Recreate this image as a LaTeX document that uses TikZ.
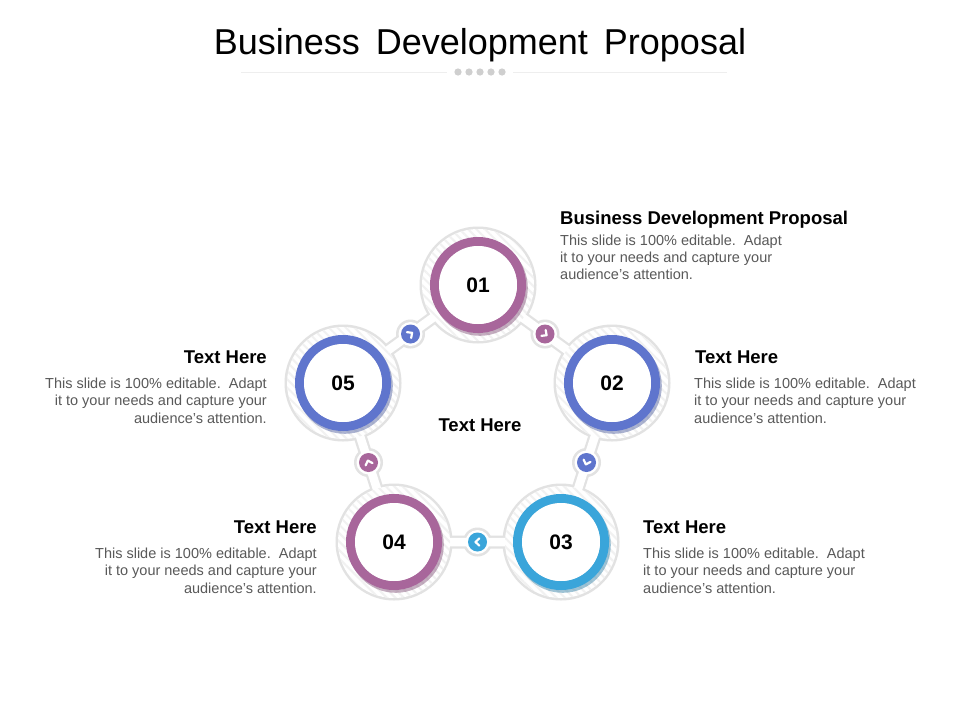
\documentclass[tikz,border=0pt]{standalone}
\usepackage{fontspec}
\setmainfont{Liberation Sans}
\usetikzlibrary{calc,patterns.meta}
\definecolor{cpurple}{HTML}{A8669B}
\definecolor{cblue}{HTML}{5F75CD}
\definecolor{csky}{HTML}{3AA5DA}
\definecolor{halo}{HTML}{E2E2E2}
\definecolor{hatch}{HTML}{F1F1F1}
\definecolor{bodygray}{HTML}{595959}
\definecolor{dotgray}{HTML}{CFCFCF}
\definecolor{rulegray}{HTML}{EEEEEE}
\tikzset{
  hd/.style={font=\bfseries\fontsize{18.5}{21}\selectfont, inner sep=0},
  bd/.style={font=\fontsize{14.5}{17.2}\selectfont, text=bodygray, inner sep=0},
  num/.style={font=\bfseries\fontsize{21}{24}\selectfont, inner sep=0},
  chev/.style={white, line width=2.2, line cap=round, line join=round},
}
\newcommand{\bigring}[2]{%
  \fill[pattern={Lines[angle=-45,distance=6pt,line width=2pt]}, pattern color=hatch] (#1) circle (56);
  \draw[#2!75!black, line width=9, opacity=0.45] ($(#1)+(1.8,2.8)$) circle (43.5);
  \draw[#2, line width=9] (#1) circle (43.5);
  \fill[white] (#1) circle (39);
}
\newcommand{\smallicon}[3]{%
  \fill[#2] (#1) circle (9.5);
  \begin{scope}[shift={(#1)}, rotate=#3]
    \draw[chev] (-1.8,-3.6) -- (2,0) -- (-1.8,3.6);
  \end{scope}
}
\begin{document}
\begin{tikzpicture}[x=1pt,y=-1pt]
\useasboundingbox (0,0) rectangle (960,720);
\fill[white] (0,0) rectangle (960,720);

% title
\node[font=\fontsize{36}{42}\selectfont, anchor=base, inner sep=0] (title) at (480,54) {Business\hspace{6pt} Development\hspace{6pt} Proposal};
\coordinate (r1) at (241,72);
\coordinate (r2) at (447,72);
\coordinate (r3) at (513,72);
\coordinate (r4) at (727,72);
\draw[rulegray, line width=0.9] (r1) -- (r2);
\draw[rulegray, line width=0.9] (r3) -- (r4);
\foreach \i in {0,...,4} \fill[dotgray] (458+11*\i,72) circle (3.6);

% centres
\coordinate (c1) at (478,285);
\coordinate (c2) at (612,383);
\coordinate (c3) at (561,542);
\coordinate (c4) at (394,542);
\coordinate (c5) at (343,383);
\coordinate (m12) at ($(c1)!0.5!(c2)$);
\coordinate (m23) at ($(c2)!0.5!(c3)$);
\coordinate (m34) at ($(c3)!0.5!(c4)$);
\coordinate (m45) at ($(c4)!0.5!(c5)$);
\coordinate (m51) at ($(c5)!0.5!(c1)$);

% grey halo layer
\foreach \c in {c1,c2,c3,c4,c5} \fill[halo] (\c) circle (58.5);
\draw[halo, line width=13] (c1) -- (c2) -- (c3) -- (c4) -- (c5) -- cycle;
\foreach \m in {m12,m23,m34,m45,m51} \fill[halo] (\m) circle (14.5);
% white layer
\foreach \c in {c1,c2,c3,c4,c5} \fill[white] (\c) circle (56);
\draw[white, line width=8.5] (c1) -- (c2) -- (c3) -- (c4) -- (c5) -- cycle;
\foreach \m in {m12,m23,m34,m45,m51} \fill[white] (\m) circle (12);

% coloured rings
\bigring{c1}{cpurple}
\bigring{c2}{cblue}
\bigring{c3}{csky}
\bigring{c4}{cpurple}
\bigring{c5}{cblue}

% small icons
\smallicon{m12}{cpurple}{-36}
\smallicon{m23}{cblue}{-108}
\smallicon{m34}{csky}{180}
\smallicon{m45}{cpurple}{108}
\smallicon{m51}{cblue}{36}

% numbers
\node[num] (n1) at (c1) {01};
\node[num] (n2) at (c2) {02};
\node[num] (n3) at (c3) {03};
\node[num] (n4) at (c4) {04};
\node[num] (n5) at (c5) {05};

% centre label
\node[hd, anchor=base] (ctr) at (480,431) {Text Here};

% text blocks
\node[hd, anchor=base west] (h1) at (560,224) {Business Development Proposal};
\node[bd, anchor=north west, align=left] (b1) at (560,234.5) {This slide is 100\% editable.\ \ Adapt\\it to your needs and capture your\\audience's attention.};

\node[hd, anchor=base west] (h2) at (695,363) {Text Here};
\node[bd, anchor=north west, align=left] (b2) at (694,378) {This slide is 100\% editable.\ \ Adapt\\it to your needs and capture your\\audience's attention.};

\node[hd, anchor=base west] (h3) at (643,533) {Text Here};
\node[bd, anchor=north west, align=left] (b3) at (643,548) {This slide is 100\% editable.\ \ Adapt\\it to your needs and capture your\\audience's attention.};

\node[hd, anchor=base east] (h4) at (317,533) {Text Here};
\node[bd, anchor=north east, align=right] (b4) at (317,548) {This slide is 100\% editable.\ \ Adapt\\it to your needs and capture your\\audience's attention.};

\node[hd, anchor=base east] (h5) at (267,363) {Text Here};
\node[bd, anchor=north east, align=right] (b5) at (267,378) {This slide is 100\% editable.\ \ Adapt\\it to your needs and capture your\\audience's attention.};
\end{tikzpicture}
\end{document}
